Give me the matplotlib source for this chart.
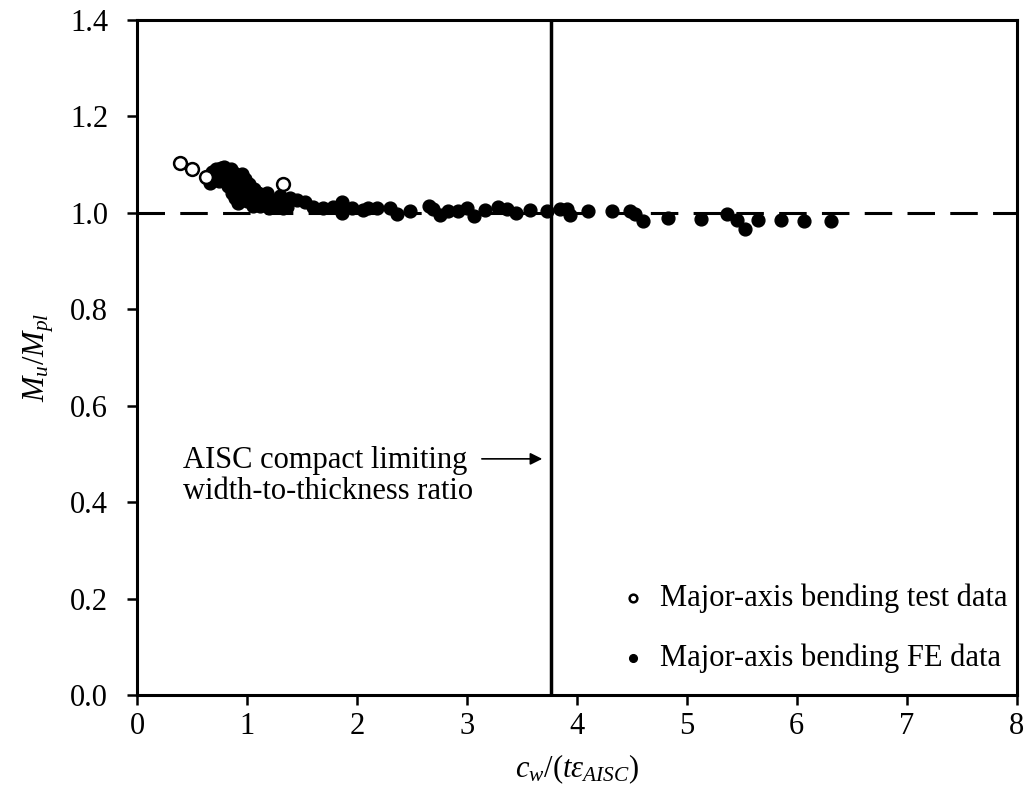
import matplotlib
matplotlib.use("Agg")
import matplotlib.pyplot as plt

plt.rcParams['font.family'] = ['Liberation Serif', 'DejaVu Serif']
plt.rcParams['mathtext.fontset'] = 'custom'
plt.rcParams['mathtext.rm'] = 'Liberation Serif'
plt.rcParams['mathtext.it'] = 'Liberation Serif:italic'

# test data (open circles)
test_x = [0.39, 0.50, 0.63, 1.33]
test_y = [1.104, 1.091, 1.074, 1.059]

# FE data (filled circles)
fe_x = [0.66, 0.68, 0.70, 0.72, 0.74, 0.76, 0.78, 0.79, 0.80, 0.82, 0.83, 0.84,
        0.85, 0.86, 0.87, 0.88, 0.89, 0.90, 0.91, 0.92, 0.93, 0.94, 0.95, 0.96,
        0.97, 0.98, 1.00, 1.01, 1.02, 1.04, 1.05, 1.06, 1.08, 1.10, 1.12, 1.14,
        1.16, 1.18, 1.20, 1.22, 1.25, 1.28, 1.30, 1.33,
        1.36, 1.39, 1.45, 1.53, 1.60, 1.69, 1.78, 1.86, 1.86, 1.95, 2.05, 2.10,
        2.18, 2.30, 2.36, 2.48, 2.65, 2.69, 2.75, 2.83, 2.92, 3.00, 3.06, 3.16,
        3.28, 3.36, 3.45, 3.57, 3.73, 3.85, 3.91, 3.94, 4.10, 4.32, 4.48, 4.53,
        4.60, 4.83, 5.13, 5.37, 5.46, 5.53, 5.65, 5.86, 6.07, 6.31]
fe_y = [1.062, 1.085, 1.070, 1.090, 1.065, 1.093, 1.080, 1.095, 1.070, 1.088, 1.055, 1.078,
        1.090, 1.040, 1.065, 1.082, 1.030, 1.050, 1.075, 1.020, 1.060, 1.040, 1.080, 1.030,
        1.055, 1.070, 1.025, 1.045, 1.060, 1.035, 1.015, 1.050, 1.025, 1.040, 1.015, 1.030,
        1.020, 1.040, 1.010, 1.025, 1.015, 1.020, 1.035, 1.010,
        1.012, 1.031, 1.027, 1.023, 1.012, 1.010, 1.012, 1.023, 1.000, 1.010, 1.006, 1.010,
        1.010, 1.010, 0.998, 1.004, 1.015, 1.008, 0.996, 1.004, 1.003, 1.010, 0.994, 1.006,
        1.012, 1.008, 0.999, 1.006, 1.003, 1.008, 1.008, 0.996, 1.003, 1.003, 1.003, 0.998,
        0.982, 0.990, 0.988, 0.998, 0.986, 0.967, 0.984, 0.984, 0.982, 0.982]

aisc_limit = 3.76

fig, ax = plt.subplots(figsize=(10.32, 7.91), dpi=100)
fig.subplots_adjust(left=0.133, right=0.985, top=0.975, bottom=0.121)

ax.axhline(1.0, color='black', lw=2.2, dashes=(9, 5), zorder=1)
ax.axvline(aisc_limit, color='black', lw=2.5, zorder=1)

ax.scatter(fe_x, fe_y, s=85, color='black', zorder=3, label='Major-axis bending FE data')
ax.scatter(test_x, test_y, s=85, facecolor='white', edgecolor='black', linewidth=1.8,
           zorder=4, label='Major-axis bending test data')

ax.annotate('', xy=(3.71, 0.49), xytext=(3.11, 0.49),
            arrowprops=dict(arrowstyle='-|>', color='black', lw=1.2, mutation_scale=18))
ax.text(0.42, 0.455, 'AISC compact limiting\nwidth-to-thickness ratio', fontsize=22,
        va='center', ha='left', linespacing=1.1)

ax.set_xlim(0, 8)
ax.set_ylim(0, 1.4)
ax.set_xticks(range(0, 9))
ax.set_yticks([0.0, 0.2, 0.4, 0.6, 0.8, 1.0, 1.2, 1.4])
ax.set_yticklabels([f'{v:.1f}' for v in [0.0, 0.2, 0.4, 0.6, 0.8, 1.0, 1.2, 1.4]])
ax.tick_params(direction='out', length=7, width=1.8, labelsize=22)
ax.tick_params(axis='y', pad=14)
ax.tick_params(axis='x', pad=5)
for sp in ax.spines.values():
    sp.set_linewidth(2.2)

ax.set_xlabel(r'$c_w/(t\varepsilon_{AISC})$', fontsize=22, labelpad=8)
ax.set_ylabel(r'$M_u/M_{pl}$', fontsize=22, labelpad=10)

handles, labels = ax.get_legend_handles_labels()
leg = ax.legend(handles[::-1], labels[::-1], loc='lower right', frameon=False, fontsize=22,
                handletextpad=-0.1, labelspacing=1.0, markerscale=0.6,
                borderaxespad=0.0, bbox_to_anchor=(1.004, 0.015))

fig.savefig('out.png', dpi=100)
